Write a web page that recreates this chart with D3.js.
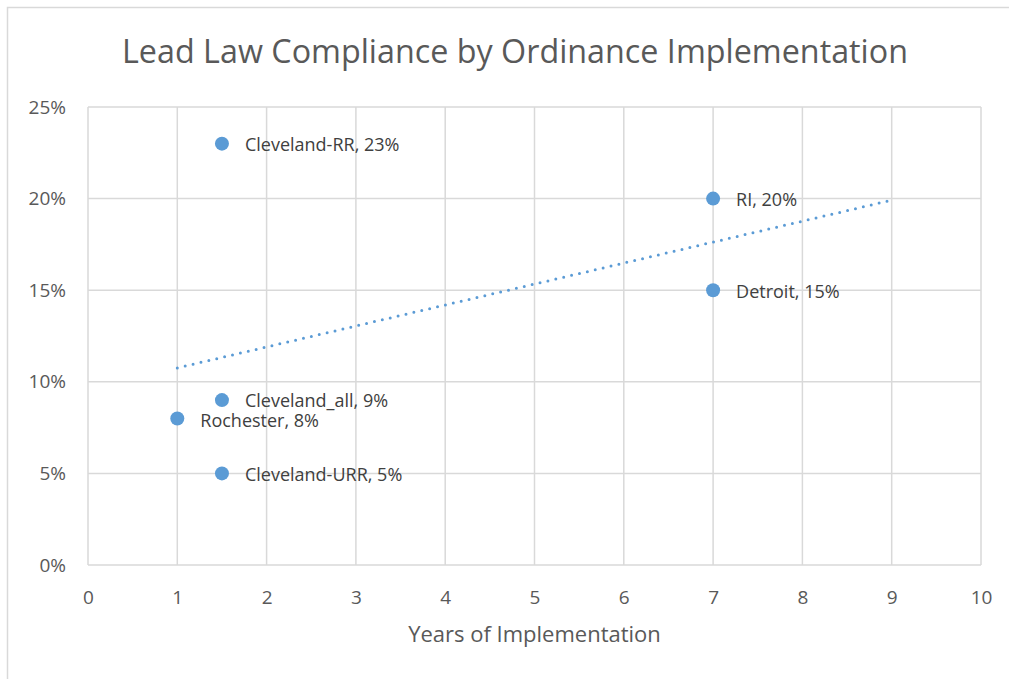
<!DOCTYPE html>
<html>
<head>
<meta charset="utf-8">
<script src="https://cdn.jsdelivr.net/npm/d3@7"></script>
<style>
  body { margin: 0; background: #fff; }
  svg { display: block; }
</style>
</head>
<body>
<div id="chart"></div>
<script>
// data
const names = ['Cleveland-RR', 'RI', 'Detroit', 'Cleveland_all', 'Rochester', 'Cleveland-URR'];
const years = [1.5, 7, 7, 1.5, 1, 1.5];
const compliance = [0.23, 0.20, 0.15, 0.09, 0.08, 0.05];
const xTicks = [0, 1, 2, 3, 4, 5, 6, 7, 8, 9, 10];
const yTicks = [0, 0.05, 0.10, 0.15, 0.20, 0.25];

const W = 1009, H = 679;
const margin = { left: 88, right: 28, top: 107, bottom: 114 };
const blue = '#5b9bd5';
const grid = '#d9d9d9';
const txt = '#595959';

const svg = d3.select('#chart').append('svg')
  .attr('width', W)
  .attr('height', H);

// chart frame
svg.append('path')
  .attr('d', `M7.5,${H} V7.5 H${W}`)
  .attr('fill', 'none')
  .attr('stroke', grid)
  .attr('stroke-width', 1.5);

const x = d3.scaleLinear().domain([0, 10]).range([margin.left, W - margin.right]);
const y = d3.scaleLinear().domain([0, 0.25]).range([H - margin.bottom, margin.top]);

// gridlines
svg.append('g')
  .selectAll('line.v')
  .data(xTicks)
  .join('line')
  .attr('x1', d => x(d)).attr('x2', d => x(d))
  .attr('y1', y(0)).attr('y2', y(0.25))
  .attr('stroke', grid).attr('stroke-width', 1.5);

svg.append('g')
  .selectAll('line.h')
  .data(yTicks)
  .join('line')
  .attr('x1', x(0)).attr('x2', x(10))
  .attr('y1', d => y(d)).attr('y2', d => y(d))
  .attr('stroke', grid).attr('stroke-width', 1.5);

// axes labels via d3 axes, lines hidden
const xAxis = svg.append('g')
  .attr('transform', `translate(0,${y(0)})`)
  .call(d3.axisBottom(x).tickValues(xTicks).tickSize(0).tickPadding(26).tickFormat(d3.format('d')));
const yAxis = svg.append('g')
  .attr('transform', `translate(${x(0)},0)`)
  .call(d3.axisLeft(y).tickValues(yTicks).tickSize(0).tickPadding(22).tickFormat(d3.format('.0%')));

[xAxis, yAxis].forEach(g => {
  g.select('.domain').remove();
  g.selectAll('text')
    .style('font-family', '"Open Sans", sans-serif')
    .style('font-size', '19px')
    .attr('fill', txt);
});

// title
svg.append('text')
  .attr('x', (122 + 908) / 2)
  .attr('y', 63)
  .attr('text-anchor', 'middle')
  .attr('textLength', 786)
  .attr('lengthAdjust', 'spacingAndGlyphs')
  .style('font-family', '"Open Sans", sans-serif')
  .style('font-size', '32px')
  .attr('fill', txt)
  .text('Lead Law Compliance by Ordinance Implementation');

// x axis title
svg.append('text')
  .attr('x', (x(0) + x(10)) / 2)
  .attr('y', 642)
  .attr('text-anchor', 'middle')
  .style('font-family', '"Open Sans", sans-serif')
  .style('font-size', '22px')
  .attr('fill', txt)
  .text('Years of Implementation');

// linear trendline, forward forecast 2 units
const n = years.length;
const mx = d3.mean(years), my = d3.mean(compliance);
let sxy = 0, sxx = 0;
for (let i = 0; i < n; i++) {
  sxy += (years[i] - mx) * (compliance[i] - my);
  sxx += (years[i] - mx) ** 2;
}
const slope = sxy / sxx;
const intercept = my - slope * mx;
const x0 = d3.min(years), x1 = d3.max(years) + 2;

svg.append('line')
  .attr('x1', x(x0)).attr('y1', y(intercept + slope * x0))
  .attr('x2', x(x1)).attr('y2', y(intercept + slope * x1))
  .attr('stroke', blue)
  .attr('stroke-width', 3)
  .attr('stroke-linecap', 'round')
  .attr('stroke-dasharray', '0 8.1');

// points
const pts = names.map((nm, i) => ({ name: nm, x: years[i], y: compliance[i] }));

svg.append('g')
  .selectAll('circle')
  .data(pts)
  .join('circle')
  .attr('cx', d => x(d.x))
  .attr('cy', d => y(d.y))
  .attr('r', 7)
  .attr('fill', blue);

svg.append('g')
  .selectAll('text')
  .data(pts)
  .join('text')
  .attr('x', d => x(d.x) + 23)
  .attr('y', d => y(d.y) + (d.name === 'Rochester' ? 2 : 1))
  .attr('dy', '0.35em')
  .style('font-family', '"Open Sans", sans-serif')
  .style('font-size', '18px')
  .attr('fill', '#404040')
  .text(d => `${d.name}, ${d3.format('.0%')(d.y)}`);
</script>
</body>
</html>
